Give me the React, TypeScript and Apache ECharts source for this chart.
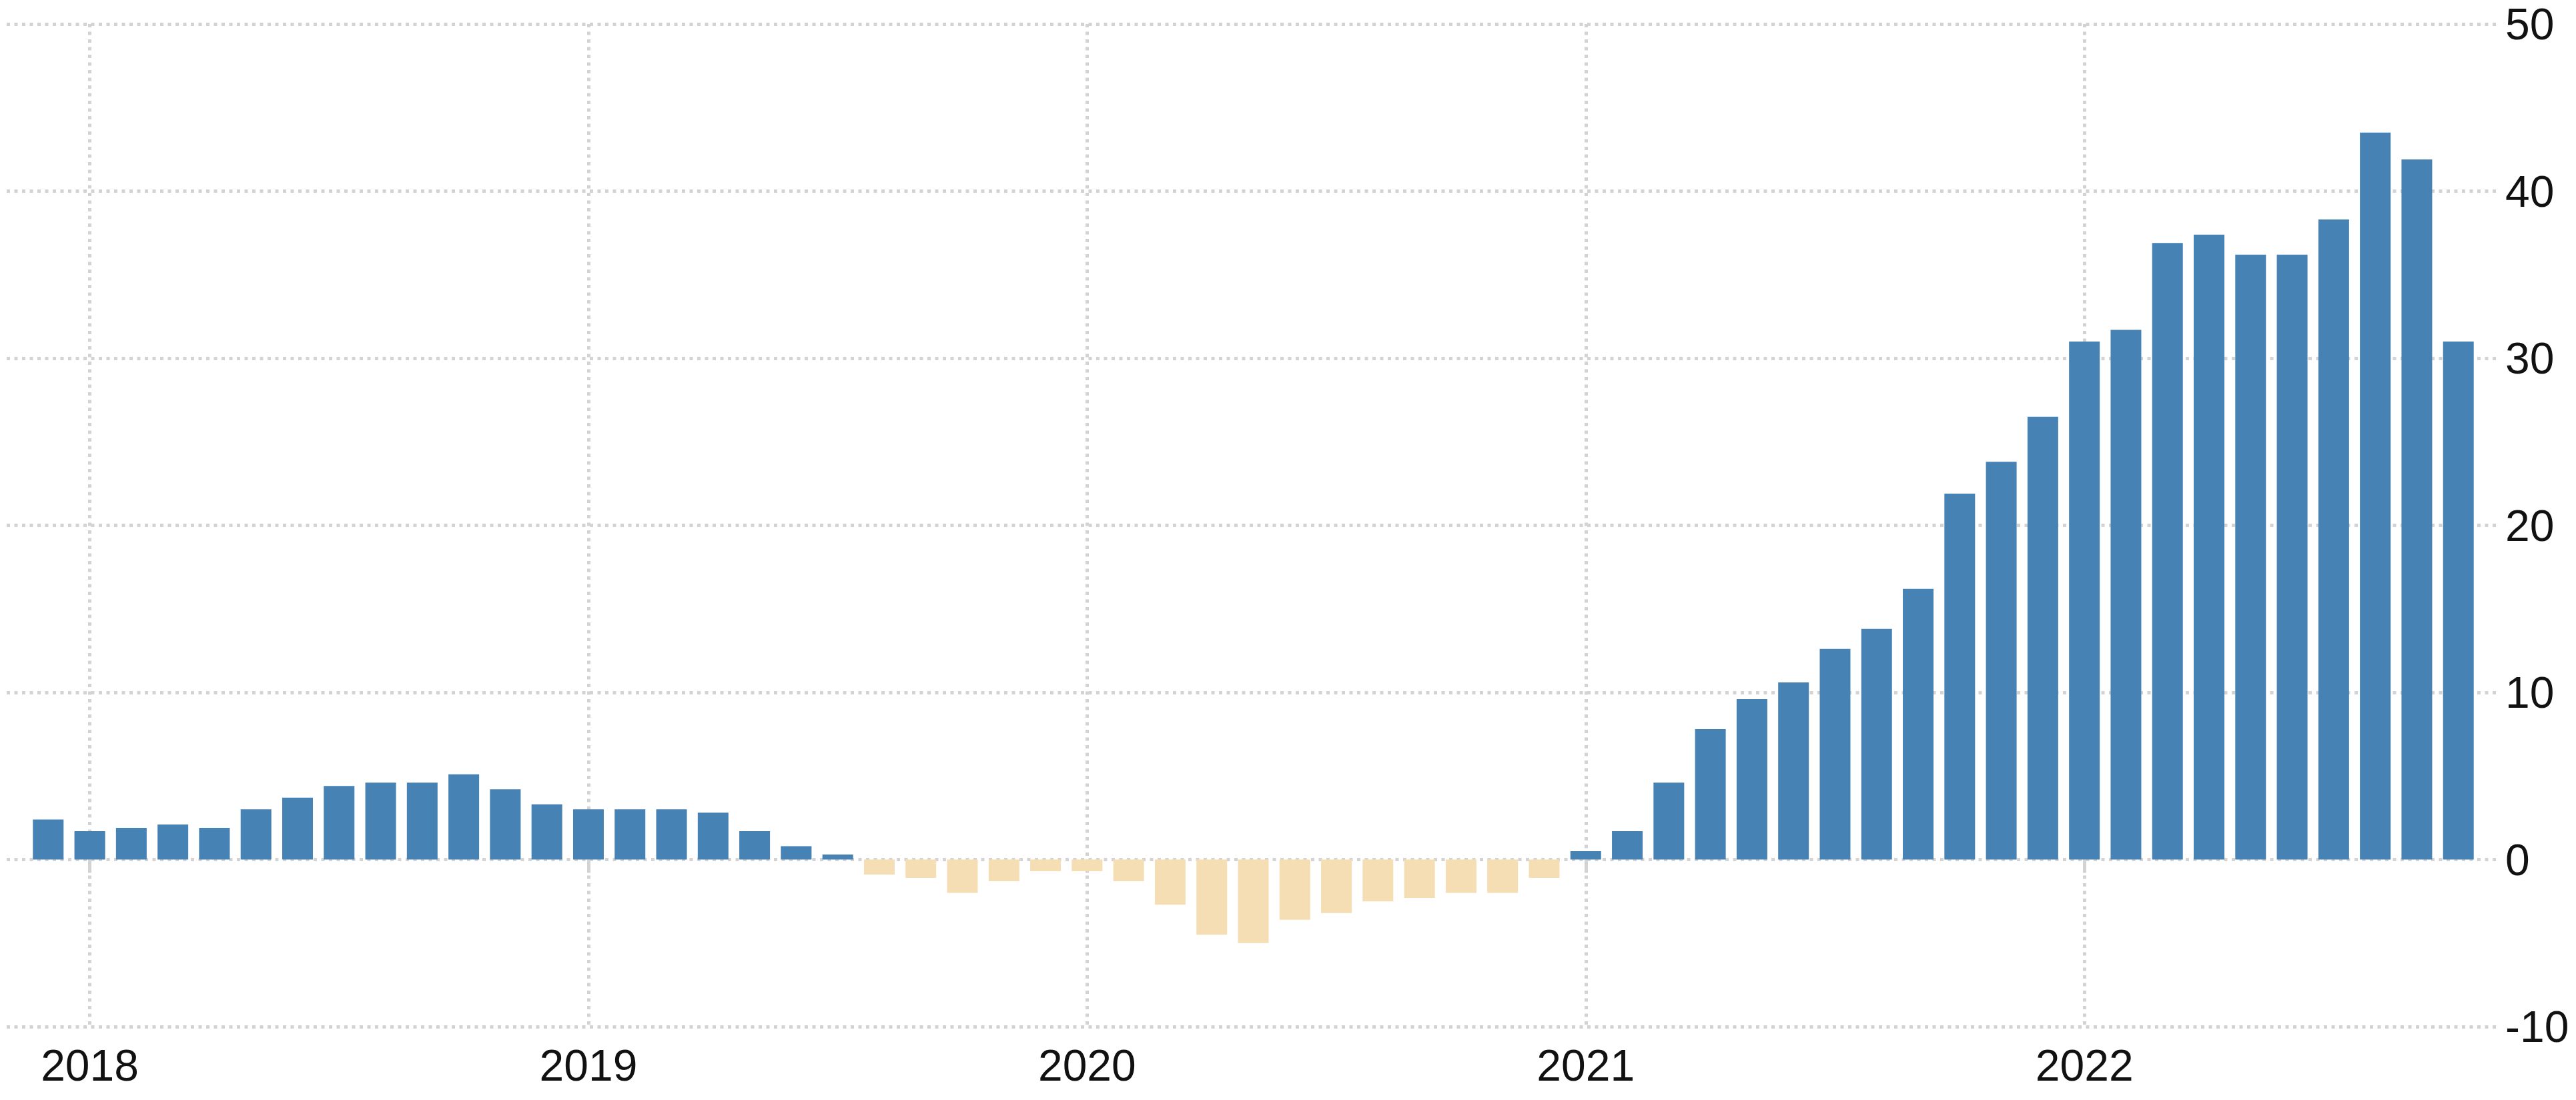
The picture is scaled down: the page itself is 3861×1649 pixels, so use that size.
import React, { useEffect, useRef } from "react";
import * as echarts from "echarts";

// Monthly values, Dec 2017 .. Oct 2022
const values2017 = [2.4]; // Dec
const values2018 = [1.7, 1.9, 2.1, 1.9, 3.0, 3.7, 4.4, 4.6, 4.6, 5.1, 4.2, 3.3];
const values2019 = [3.0, 3.0, 3.0, 2.8, 1.7, 0.8, 0.3, -0.9, -1.1, -2.0, -1.3, -0.7];
const values2020 = [-0.7, -1.3, -2.7, -4.5, -5.0, -3.6, -3.2, -2.5, -2.3, -2.0, -2.0, -1.1];
const values2021 = [0.5, 1.7, 4.6, 7.8, 9.6, 10.6, 12.6, 13.8, 16.2, 21.9, 23.8, 26.5];
const values2022 = [31.0, 31.7, 36.9, 37.4, 36.2, 36.2, 38.3, 43.5, 41.9, 31.0];

// Axis spans Nov 2017 .. Nov 2022 (empty padding months at both ends)
const startYear = 2017;
const startMonth = 11;
const monthCount = 61;
const yTicks = { min: -10, max: 50, interval: 10 };

const categories: string[] = [];
for (let i = 0; i < monthCount; i++) {
  const m0 = startMonth - 1 + i;
  const y = startYear + Math.floor(m0 / 12);
  const m = (m0 % 12) + 1;
  categories.push(`${y}-${m < 10 ? "0" + m : m}`);
}

const seriesValues: (number | string)[] = [
  "-",
  ...values2017,
  ...values2018,
  ...values2019,
  ...values2020,
  ...values2021,
  ...values2022,
  "-",
];

const FONT = "'Liberation Sans', Arial, sans-serif";
const GRID_COLOR = "#d3d3d3";
const isJan = (i: number) => (categories[i] || "").endsWith("-01");

export default function App() {
  const ref = useRef<HTMLDivElement>(null);
  useEffect(() => {
    if (!ref.current) return;
    const chart = echarts.init(ref.current, undefined, { renderer: "svg" });
    chart.setOption({
      animation: false,
      backgroundColor: "#ffffff",
      grid: { left: 10, right: 114, top: 36, bottom: 110, containLabel: false },
      xAxis: {
        type: "category",
        boundaryGap: false,
        data: categories,
        axisLine: { show: false },
        axisTick: {
          show: true,
          interval: (i: number) => isJan(i),
          length: 20,
          lineStyle: { color: GRID_COLOR, width: 5 },
        },
        axisLabel: {
          interval: (i: number) => isJan(i),
          formatter: (v: string) => v.slice(0, 4),
          fontSize: 66,
          lineHeight: 64,
          fontFamily: FONT,
          color: "#111",
          margin: 26,
        },
        splitLine: {
          show: true,
          interval: (i: number) => isJan(i),
          lineStyle: { color: GRID_COLOR, width: 5, type: [5, 6.5] },
        },
      },
      yAxis: {
        type: "value",
        position: "right",
        min: yTicks.min,
        max: yTicks.max,
        interval: yTicks.interval,
        axisLine: { show: false },
        axisTick: { show: false },
        axisLabel: {
          fontSize: 66,
          lineHeight: 60,
          fontFamily: FONT,
          color: "#111",
          margin: 8,
        },
        splitLine: {
          show: true,
          lineStyle: { color: GRID_COLOR, width: 5, type: [5, 6.5] },
        },
      },
      series: [
        {
          type: "bar",
          data: seriesValues,
          barWidth: 46,
          itemStyle: {
            color: (p: any) => (p.value >= 0 ? "#4682B4" : "#F5DEB3"),
          },
        },
      ],
    });
    return () => chart.dispose();
  }, []);
  return (
    <div
      ref={ref}
      style={{ position: "absolute", left: 0, top: 0, width: "3861px", height: "1649px" }}
    />
  );
}
